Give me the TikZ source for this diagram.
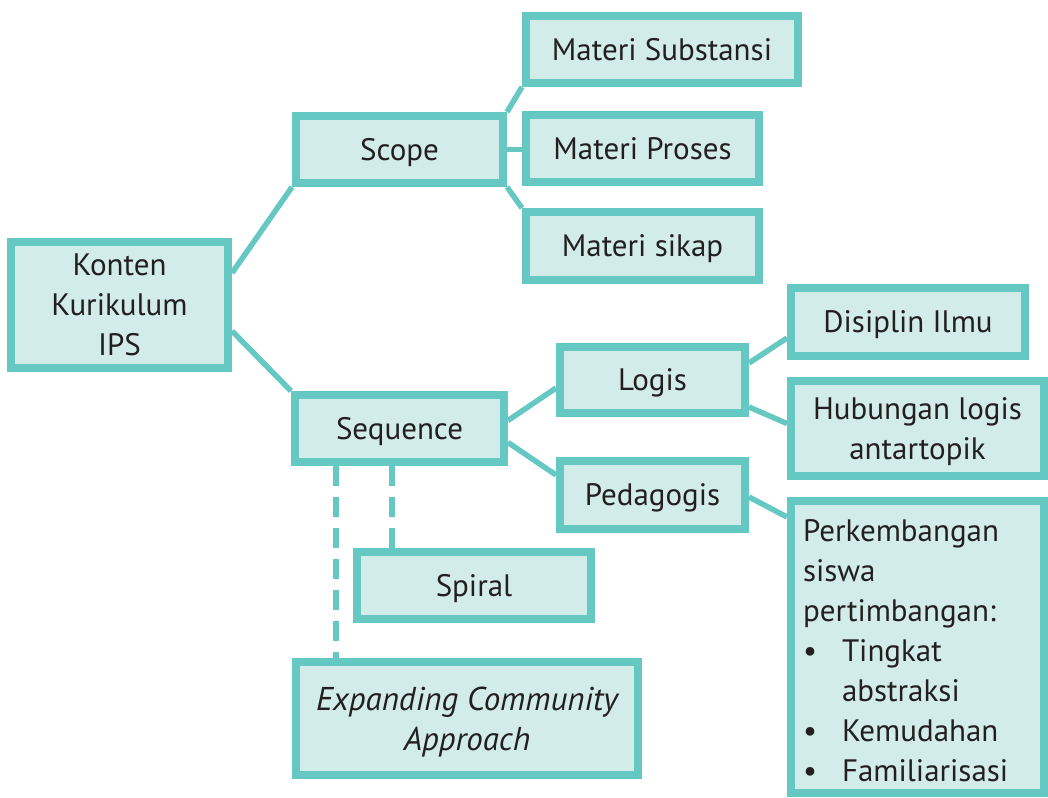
\documentclass[tikz,border=0pt]{standalone}
\usepackage{fontspec}
\setmainfont{PT Sans}
\definecolor{bordo}{HTML}{66C8C3}
\definecolor{isi}{HTML}{D2ECEA}
\definecolor{teks}{HTML}{231F20}
\begin{document}
\begin{tikzpicture}[x=1pt, y=-1pt,
    box/.style={draw=bordo, line width=8pt, fill=isi, text=teks, align=center,
        inner sep=0pt, text depth=0pt, font=\fontsize{31}{40}\selectfont},
    garis/.style={draw=bordo, line width=5.5pt},
    putus/.style={garis, dash pattern=on 20pt off 11pt}]
        \useasboundingbox (0,0) rectangle (1048,797);

        % Konten utama
        \node[box, minimum width=217pt, minimum height=126pt] (konten) at (119.5,305) {Konten\\Kurikulum\\IPS};

        % Scope
        \node[box, minimum width=207pt, minimum height=67pt] (scope) at (399.5,149.5) {Scope};
        \node[box, minimum width=272pt, minimum height=67pt] (subst) at (662,49.5) {Materi Substansi};
        \node[box, minimum width=233pt, minimum height=67pt] (proses) at (642.5,148.5) {Materi Proses};
        \node[box, minimum width=233pt, minimum height=68pt] (sikap) at (642.5,246) {Materi sikap};

        % Sequence
        \node[box, minimum width=209pt, minimum height=67pt] (sequence) at (399.5,428.5) {Sequence};
        \node[box, minimum width=185pt, minimum height=66pt] (logis) at (652.5,380) {Logis};
        \node[box, minimum width=185pt, minimum height=68pt] (pedagogis) at (652.5,495) {Pedagogis};
        \node[box, minimum width=234pt, minimum height=67pt] (spiral) at (474,585.5) {Spiral};
        \node[box, minimum width=342pt, minimum height=113pt, font=\fontsize{33}{40}\selectfont\itshape] (expanding) at (467,718.5) {Expanding Community\\Approach};

        % Logis dan Pedagogis
        \node[box, minimum width=234pt, minimum height=68pt] (disiplin) at (908,322) {Disiplin Ilmu};
        \node[box, minimum width=253pt, minimum height=95pt] (hubungan) at (917.5,428.5) {Hubungan logis\\antartopik};
        \node[box, minimum width=253pt, minimum height=292pt, text width=229pt, text height=29pt, text depth={}, align=left] (perkembangan) at (917.5,647)
            {Perkembangan\\siswa\\pertimbangan:\\
             \makebox[39pt][l]{\textbullet}Tingkat\\
             \hspace*{39pt}abstraksi\\
             \makebox[39pt][l]{\textbullet}Kemudahan\\
             \makebox[39pt][l]{\textbullet}Familiarisasi};

        % Garis penghubung
        \draw[garis] ([yshift=32pt]konten.east) -- (scope.south west);
        \draw[garis] ([yshift=-26pt]konten.east) -- (sequence.north west);
        \draw[garis] (scope.north east) -- (subst.south west);
        \draw[garis] (scope.east) -- (scope.east -| proses.west);
        \draw[garis] (scope.south east) -- (sikap.north west);
        \draw[garis] ([yshift=8pt]sequence.east) -- ([yshift=-8pt]logis.west);
        \draw[garis] ([yshift=-14pt]sequence.east) -- ([yshift=20pt]pedagogis.west);
        \draw[garis] ([yshift=17pt]logis.east) -- ([yshift=-16pt]disiplin.west);
        \draw[garis] ([yshift=-27pt]logis.east) -- ([yshift=5pt]hubungan.west);
        \draw[garis] ([yshift=-2pt]pedagogis.east) -- ([yshift=-20pt]perkembangan.north west);

        % Garis putus-putus
        \coordinate (d1) at ([xshift=45pt]sequence.south west);
        \coordinate (d2) at ([xshift=101pt]sequence.south west);
        \draw[putus] (d1) -- (d1 |- expanding.north);
        \draw[putus] (d2) -- (d2 |- spiral.north);
\end{tikzpicture}
\end{document}
